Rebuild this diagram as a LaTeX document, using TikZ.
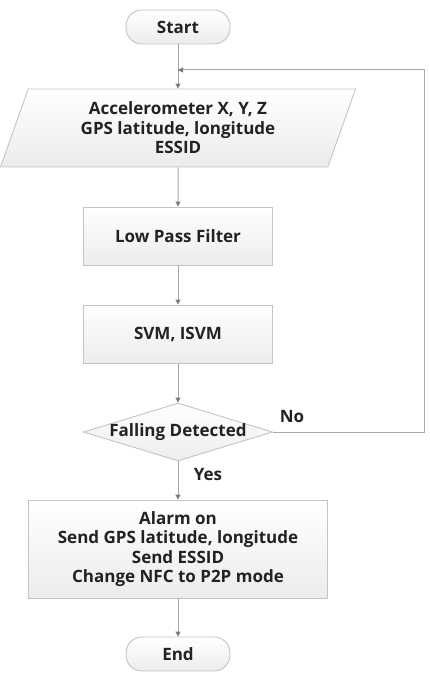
\documentclass[tikz,border=0pt]{standalone}
\usepackage{fontspec}
\setmainfont{Open Sans}
\usetikzlibrary{shapes.geometric,arrows.meta}
\definecolor{linegray}{HTML}{A8A8A8}
\definecolor{tipgray}{HTML}{7A7A7A}
\definecolor{boxline}{HTML}{C4C4C4}
\definecolor{boxfill}{HTML}{ECECEC}
\definecolor{textdark}{HTML}{222222}

\begin{document}
\begin{tikzpicture}[x=1pt, y=-1pt,
	every node/.style={font=\fontsize{17}{19.5}\selectfont\bfseries, text=textdark, align=center},
	box/.style={draw=boxline, line width=0.9pt, top color=white, bottom color=boxfill},
	term/.style={box, rounded corners=16pt, minimum width=104pt, minimum height=34pt},
	proc/.style={box, rectangle, minimum width=189pt, minimum height=58pt},
	flow/.style={draw=linegray, line width=1pt, -{Triangle[length=5pt, width=5pt, color=tipgray]}}]
	\useasboundingbox (0,0) rectangle (430,676);
	\node[term] (start) at (178,27) {Start};
	\node[box, trapezium, trapezium left angle=62, trapezium right angle=118, trapezium stretches body,
		minimum width=355pt, minimum height=78pt, inner sep=0pt] (input) at (178,128)
		{Accelerometer X, Y, Z\\GPS latitude, longitude\\ESSID};
	\node[proc] (lpf) at (178,236) {Low Pass Filter};
	\node[proc] (svm) at (178,334) {SVM, ISVM};
	\node[box, diamond, aspect=3.26, minimum width=189pt, minimum height=58pt, inner sep=-2.5pt] (fall) at (178,432) {Falling Detected};
	\node[box, rectangle, minimum width=299pt, minimum height=98pt] (alarm) at (178,549)
		{Alarm on\\Send GPS latitude, longitude\\Send ESSID\\Change NFC to P2P mode};
	\node[term] (stop) at (178,654) {End};
	\node (lblNo) at (292,417) {No};
	\node (lblYes) at (208,475) {Yes};
	% loop back to the input
	\coordinate (loopB) at (424,432);
	\coordinate (loopT) at (424,70);
	\coordinate (merge) at (178,70);
	\draw[flow] (start) -- (input);
	\draw[flow] (input) -- (lpf);
	\draw[flow] (lpf) -- (svm);
	\draw[flow] (svm) -- (fall);
	\draw[flow] (fall) -- (alarm);
	\draw[flow] (alarm) -- (stop);
	\draw[flow] (fall.east) -- (loopB) -- (loopT) -- (merge);
\end{tikzpicture}
\end{document}
